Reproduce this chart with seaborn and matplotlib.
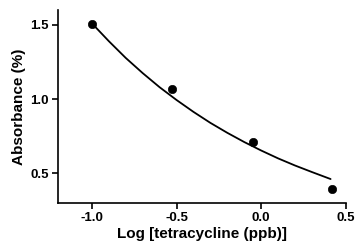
import matplotlib
matplotlib.use("Agg")
import matplotlib.pyplot as plt
import seaborn as sns
import pandas as pd

# measured points
log_conc = [-1.0, -0.524, -0.05, 0.42]
absorbance = [1.507, 1.066, 0.71, 0.397]

# fitted curve
curve_x = [-1.0, -0.9, -0.8, -0.7, -0.6, -0.5, -0.4, -0.3, -0.2, -0.1, 0.0, 0.1, 0.2, 0.3, 0.41]
curve_y = [1.51, 1.39, 1.277, 1.175, 1.08, 0.994, 0.914, 0.84, 0.773, 0.711, 0.654, 0.601, 0.553, 0.509, 0.462]

xticks = [-1.0, -0.5, 0.0, 0.5]
yticks = [0.5, 1.0, 1.5]

sns.set_style("ticks")
plt.rcParams['font.family'] = ['Liberation Sans', 'DejaVu Sans']
plt.rcParams['text.color'] = 'black'
plt.rcParams['axes.labelcolor'] = 'black'

fig = plt.figure(figsize=(3.58, 2.48), dpi=100)
ax = fig.add_axes([0.162, 0.181, 0.804, 0.779])

pts = pd.DataFrame({"x": log_conc, "y": absorbance})
crv = pd.DataFrame({"x": curve_x, "y": curve_y})

sns.lineplot(data=crv, x="x", y="y", ax=ax, color="black", linewidth=1.3)
sns.scatterplot(data=pts, x="x", y="y", ax=ax, color="black", s=36, edgecolor="black", zorder=3)

ax.set_xlim(-1.2, 0.5)
ax.set_ylim(0.3, 1.6)
ax.set_xticks(xticks)
ax.set_xticklabels([f"{t:.1f}" for t in xticks])
ax.set_yticks(yticks)
ax.set_yticklabels([f"{t:.1f}" for t in yticks])

for s in ["top", "right"]:
    ax.spines[s].set_visible(False)
for s in ["left", "bottom"]:
    ax.spines[s].set_linewidth(1.2)
    ax.spines[s].set_color("black")

ax.tick_params(axis="both", direction="out", length=4, width=1.2, colors="black",
               labelsize=9.5, pad=2.5)
for lab in ax.get_xticklabels() + ax.get_yticklabels():
    lab.set_fontweight("bold")
    lab.set_color("black")

ax.set_xlabel("Log [tetracycline (ppb)]", fontsize=11, fontweight="bold", labelpad=2, color="black")
ax.set_ylabel("Absorbance (%)", fontsize=11, fontweight="bold", labelpad=3, color="black")

fig.savefig("out.png", dpi=100)
